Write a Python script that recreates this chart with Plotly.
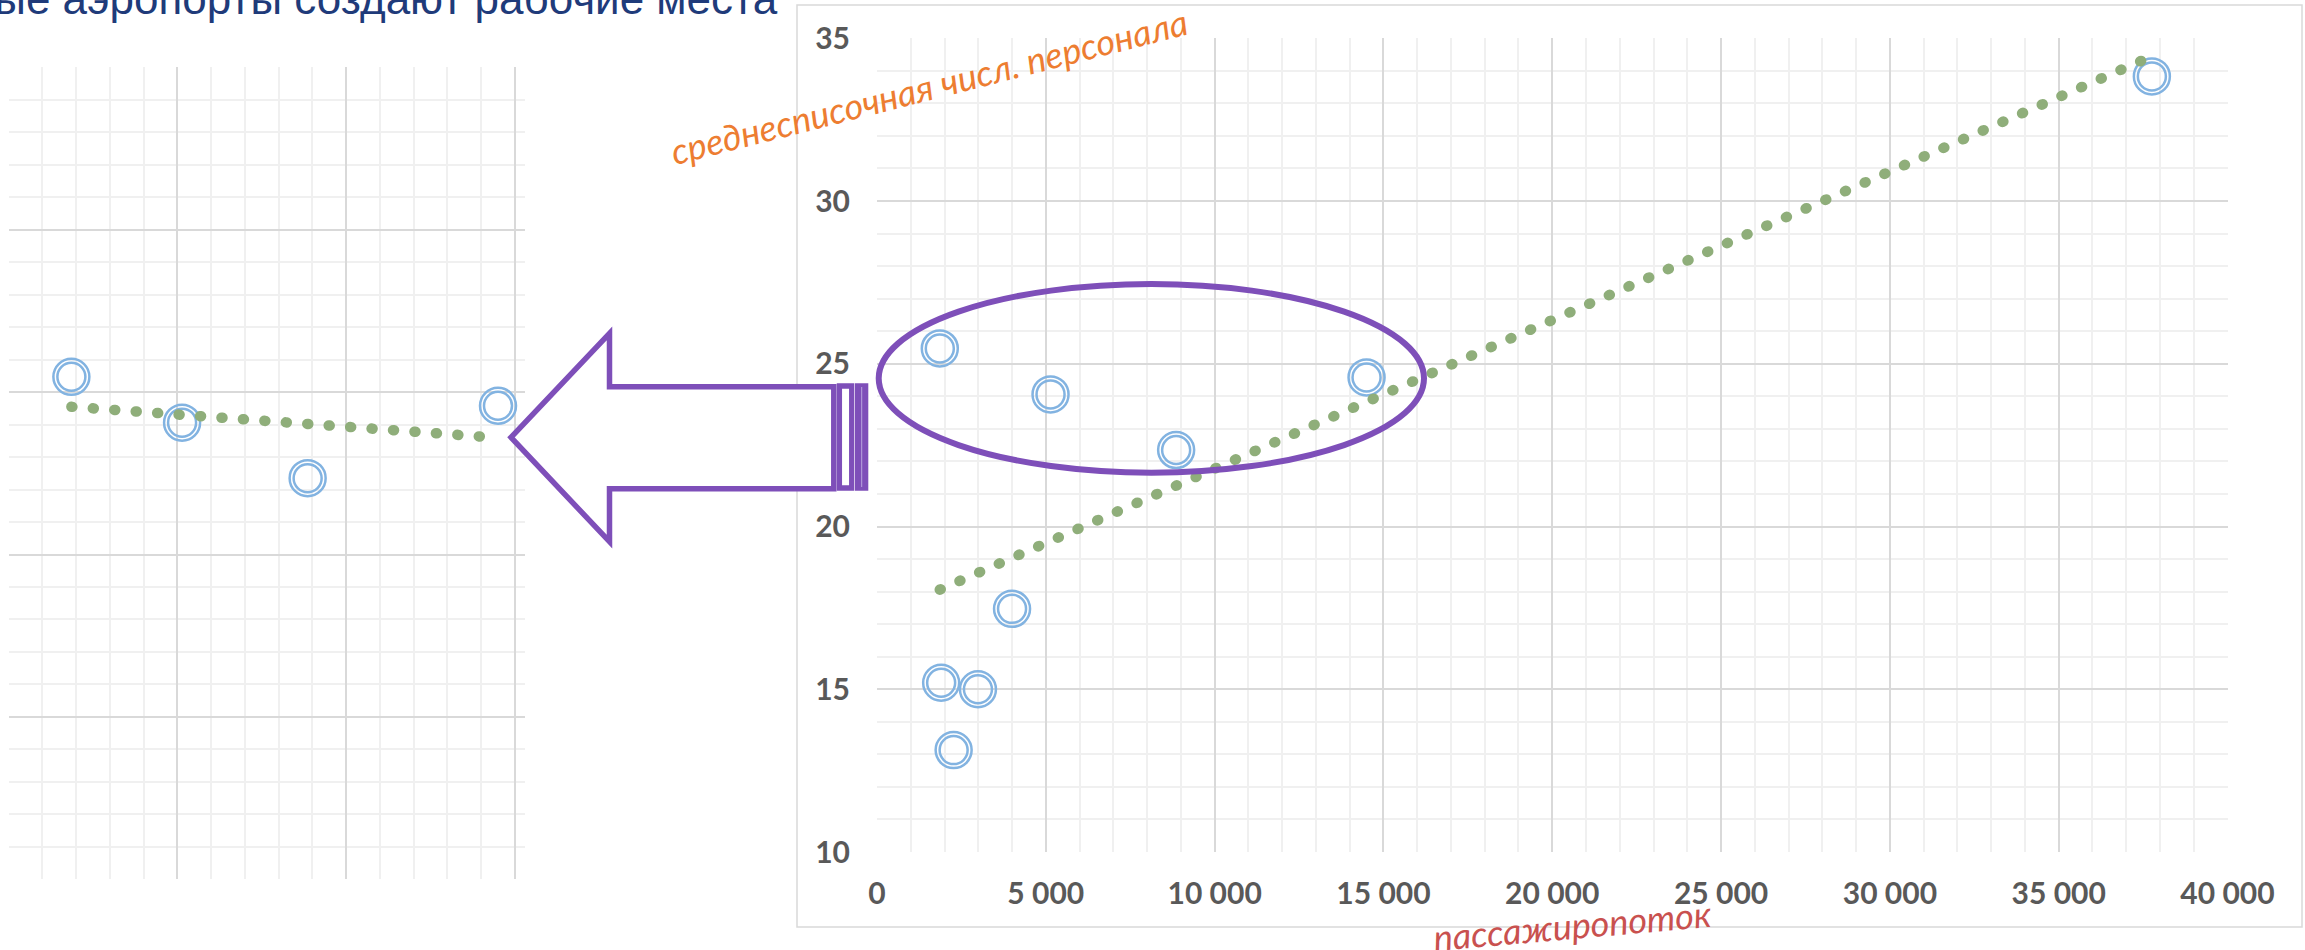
import numpy as np
import plotly.graph_objects as go

# Figure size in pixels; margins are zero so paper coordinates map to pixels.
W, H = 2305, 950


def px(x):
    return x / W


def py(y):
    return 1 - y / H


# Airports: passenger traffic vs. average headcount
PASSENGERS = [1860, 5140, 8860, 14500, 4000, 1900, 2990, 2270, 37760]
STAFF = [25.47, 24.06, 22.35, 24.58, 17.47, 15.2, 15.0, 13.13, 33.83]

# Highlighted group shown in the enlarged panel
GROUP_PASSENGERS = [1860, 5140, 8860, 14500]
GROUP_STAFF = [25.47, 24.06, 22.35, 24.58]

X_TICKS = [0, 5000, 10000, 15000, 20000, 25000, 30000, 35000, 40000]
X_TICK_LABELS = ["0", "5 000", "10 000", "15 000", "20 000", "25 000",
                 "30 000", "35 000", "40 000"]
Y_TICKS = [10, 15, 20, 25, 30, 35]
Y_TICK_LABELS = ["10", "15", "20", "25", "30", "35"]

RING = "#82B3E1"
TREND = "#8FAE7A"
PURPLE = "#7E4FB9"
GRID = "#d9d9d9"
MINOR_GRID = "#f0f0f0"
TICK_FONT = dict(family="Lato, 'Open Sans', sans-serif", size=30,
                 color="#595959", weight="bold")


def linear_trend(xs, ys):
    slope, intercept = np.polyfit(xs, ys, 1)
    tx = [min(xs), max(xs)]
    return tx, [slope * v + intercept for v in tx]


fig = go.Figure()

for xs, ys, xa, ya in [(GROUP_PASSENGERS, GROUP_STAFF, "x", "y"),
                       (PASSENGERS, STAFF, "x2", "y2")]:
    for size in (36, 28):
        fig.add_trace(go.Scatter(
            x=xs, y=ys, mode="markers", xaxis=xa, yaxis=ya,
            marker=dict(symbol="circle-open", size=size, color=RING,
                        line=dict(width=2.5, color=RING)),
            hoverinfo="x+y"))
    tx, ty = linear_trend(xs, ys)
    fig.add_trace(go.Scatter(
        x=tx, y=ty, mode="lines", xaxis=xa, yaxis=ya,
        line=dict(color=TREND, width=10.5, dash="1px,20.5px"),
        hoverinfo="skip"))

grid_common = dict(showgrid=True, gridcolor=GRID, gridwidth=1.8,
                   zeroline=False, ticks="", showline=False,
                   automargin=False)

fig.update_layout(
    width=W, height=H,
    margin=dict(l=0, r=0, t=0, b=0, autoexpand=False),
    paper_bgcolor="white", plot_bgcolor="white",
    showlegend=False,
    # enlarged panel (same scale as the main chart)
    xaxis=dict(domain=[px(8.6), px(525)], range=[0, 15300], anchor="y",
               tick0=0, dtick=5000, showticklabels=False,
               minor=dict(dtick=1000, showgrid=True, gridcolor=MINOR_GRID,
                          gridwidth=1.6),
               **grid_common),
    yaxis=dict(domain=[py(879.3), py(67.3)], range=[10, 35], anchor="x",
               tick0=10, dtick=5, showticklabels=False,
               minor=dict(dtick=1, showgrid=True, gridcolor=MINOR_GRID,
                          gridwidth=1.6),
               **grid_common),
    # main chart
    xaxis2=dict(domain=[px(877), px(2227.5)], range=[0, 40000], anchor="y2",
                tickmode="array", tickvals=X_TICKS, ticktext=X_TICK_LABELS,
                tickfont=TICK_FONT, ticklabelstandoff=21,
                minor=dict(dtick=1000, showgrid=True, gridcolor=MINOR_GRID,
                           gridwidth=1.6),
                **grid_common),
    yaxis2=dict(domain=[py(852), py(38.3)], range=[10, 35], anchor="x2",
                tickmode="array", tickvals=Y_TICKS, ticktext=Y_TICK_LABELS,
                tickfont=TICK_FONT, ticklabelstandoff=26,
                minor=dict(dtick=1, showgrid=True, gridcolor=MINOR_GRID,
                           gridwidth=1.6),
                **grid_common),
)

shapes = []
# main chart frame
shapes.append(dict(type="rect", xref="paper", yref="paper",
                   x0=px(797), x1=px(2302), y0=py(927), y1=py(5),
                   line=dict(color=GRID, width=1.5), layer="below"))
# ellipse around the highlighted group
shapes.append(dict(type="circle", xref="paper", yref="paper",
                   x0=px(878.7), x1=px(1424), y0=py(472.7), y1=py(284),
                   line=dict(color=PURPLE, width=6), layer="above"))
# striped block arrow pointing to the enlarged panel
arrow_pts = [(511, 437.3), (609.5, 333.3), (609.5, 386.7), (833.8, 386.7),
             (833.8, 488.7), (609.5, 488.7), (609.5, 541.7)]
path = "M " + " L ".join(f"{px(x):.6f},{py(y):.6f}" for x, y in arrow_pts) + " Z"
shapes.append(dict(type="path", xref="paper", yref="paper", path=path,
                   fillcolor="white", line=dict(color=PURPLE, width=5.5),
                   layer="above"))
shapes.append(dict(type="rect", xref="paper", yref="paper",
                   x0=px(839.4), x1=px(851.7), y0=py(488), y1=py(386),
                   fillcolor="white", line=dict(color=PURPLE, width=5.3),
                   layer="above"))
shapes.append(dict(type="rect", xref="paper", yref="paper",
                   x0=px(855), x1=px(868.3), y0=py(490.7), y1=py(383.3),
                   fillcolor=PURPLE, line=dict(width=0), layer="above"))
shapes.append(dict(type="line", xref="paper", yref="paper",
                   x0=px(861.7), x1=px(861.7), y0=py(487), y1=py(387),
                   line=dict(color="#B9A3DE", width=1), layer="above"))
fig.update_layout(shapes=shapes)

annotations = [
    dict(text="ные аэропорты создают рабочие места",
         xref="paper", yref="paper", x=px(780), y=py(-1), xanchor="right",
         yanchor="middle", showarrow=False,
         font=dict(family="'Liberation Sans', Arial, sans-serif", size=44,
                   color="#1F3B7A")),
    dict(text="среднесписочная числ. персонала",
         xref="paper", yref="paper", x=px(929), y=py(86), xanchor="center",
         yanchor="middle", showarrow=False, textangle=-14.3,
         font=dict(family="Lato, 'Noto Sans', sans-serif", size=36,
                   color="#ED7D31", style="italic")),
    dict(text="пассажиропоток",
         xref="paper", yref="paper", x=px(1572), y=py(925), xanchor="center",
         yanchor="middle", showarrow=False, textangle=-5,
         font=dict(family="Lato, 'Noto Sans', sans-serif", size=36,
                   color="#C9514F", style="italic")),
]
fig.update_layout(annotations=annotations)

round_dots = ("var s=document.createElement('style');"
              "s.textContent='.scatterlayer .js-line{stroke-linecap:round}';"
              "document.head.appendChild(s);")

fig.write_html("out.html", post_script=round_dots)
